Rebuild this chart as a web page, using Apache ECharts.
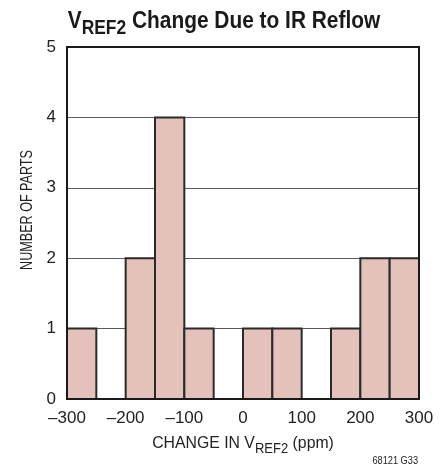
<!DOCTYPE html>
<html>
<head>
<meta charset="utf-8">
<script src="https://cdn.jsdelivr.net/npm/echarts@6/dist/echarts.min.js"></script>
<style>
  html, body { margin: 0; padding: 0; background: #fff; }
  #chart { width: 447px; height: 469px; }
</style>
</head>
<body>
<div id="chart"></div>
<script>
// Histogram bins (ppm) and part counts per bin
const binStarts = [-300, -250, -200, -150, -100, -50, 0, 50, 100, 150, 200, 250];
const binWidth = 50;
const counts = [1, 0, 2, 4, 1, 0, 1, 1, 0, 1, 2, 2];
const xTicks = [-300, -200, -100, 0, 100, 200, 300];
const yTicks = [0, 1, 2, 3, 4, 5];

const FONT = '"Liberation Sans", Arial, sans-serif';
const INK = '#1a1a1a';

const data = binStarts.map((s, i) => [s, s + binWidth, counts[i]]);

const GRID = { left: 67, top: 47, width: 352, height: 352 };

const chart = echarts.init(document.getElementById('chart'), null, { renderer: 'canvas' });

chart.setOption({
  backgroundColor: '#ffffff',
  animation: false,
  grid: {
    left: GRID.left, top: GRID.top, width: GRID.width, height: GRID.height,
    containLabel: false
  },
  xAxis: {
    type: 'value',
    min: xTicks[0], max: xTicks[xTicks.length - 1], interval: xTicks[1] - xTicks[0],
    axisLine: { show: false },
    axisTick: { show: false },
    splitLine: { show: false },
    axisLabel: {
      fontFamily: FONT, fontSize: 17, color: '#222', margin: 11,
      formatter: v => (v < 0 ? '\u2013' + Math.abs(v) : String(v))
    }
  },
  yAxis: {
    type: 'value',
    min: yTicks[0], max: yTicks[yTicks.length - 1], interval: yTicks[1] - yTicks[0],
    axisLine: { show: false },
    axisTick: { show: false },
    splitLine: { show: true, lineStyle: { color: '#5a5a5a', width: 1 } },
    axisLabel: { fontFamily: FONT, fontSize: 17, color: '#222', margin: 11 }
  },
  graphic: [
    // plot frame
    {
      type: 'rect',
      shape: { x: GRID.left, y: GRID.top, width: GRID.width, height: GRID.height },
      style: { fill: 'none', stroke: INK, lineWidth: 2 },
      z: 100
    },
    // chart title, condensed bold, with subscript
    {
      type: 'text',
      x: 224, y: 3, scaleX: 0.87,
      style: {
        x: 0, y: 0,
        text: '{v|V}{sub|REF2}{v| Change Due to IR Reflow}',
        align: 'center', verticalAlign: 'top',
        rich: {
          v: { font: 'bold 24px ' + FONT, fill: INK, lineHeight: 30, verticalAlign: 'bottom' },
          sub: { font: 'bold 20px ' + FONT, fill: INK, lineHeight: 22, verticalAlign: 'bottom', padding: [0, 0, -5, 0] }
        }
      }
    },
    // y axis title
    {
      type: 'text',
      x: 27, y: 210, rotation: Math.PI / 2, scaleX: 0.74,
      style: {
        x: 0, y: 0, text: 'NUMBER OF PARTS',
        align: 'center', verticalAlign: 'middle',
        font: '17px ' + FONT, fill: '#222'
      }
    },
    // x axis title with subscript
    {
      type: 'text',
      x: 243, y: 432, scaleX: 0.93,
      style: {
        x: 0, y: 0,
        text: '{t|CHANGE IN V}{sub|REF2}{t| (ppm)}',
        align: 'center', verticalAlign: 'top',
        rich: {
          t: { font: '17px ' + FONT, fill: '#222', lineHeight: 20, verticalAlign: 'bottom' },
          sub: { font: '14px ' + FONT, fill: '#222', lineHeight: 16, verticalAlign: 'bottom', padding: [0, 0, -4, 0] }
        }
      }
    },
    // figure id
    {
      type: 'text',
      x: 418, y: 466, scaleX: 0.92,
      style: {
        x: 0, y: 0, text: '68121 G33',
        align: 'right', verticalAlign: 'bottom',
        font: '10px ' + FONT, fill: '#222'
      }
    }
  ],
  series: [{
    type: 'custom',
    data: data,
    renderItem: function (params, api) {
      const h = api.value(2);
      if (!h) return null;
      const p0 = api.coord([api.value(0), 0]);
      const p1 = api.coord([api.value(1), h]);
      return {
        type: 'rect',
        shape: { x: p0[0], y: p1[1], width: p1[0] - p0[0], height: p0[1] - p1[1] },
        style: { fill: '#e4c1bb', stroke: '#2a2a2a', lineWidth: 2 }
      };
    },
    encode: { x: [0, 1], y: 2 }
  }]
});
</script>
</body>
</html>
